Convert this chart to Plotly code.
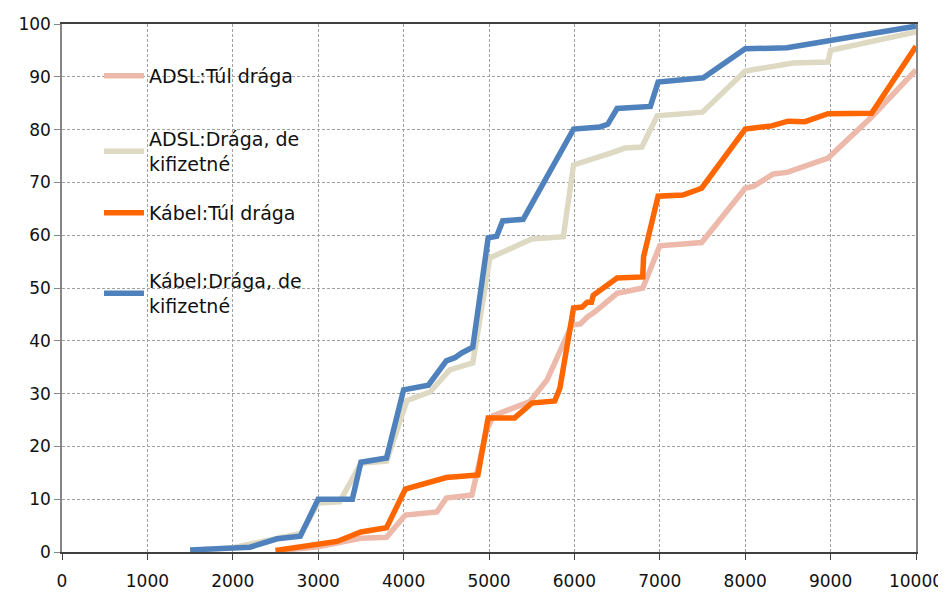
import plotly.graph_objects as go

adsl_tul_x = [2500, 3000, 3300, 3500, 3800, 4020, 4390, 4500, 4800, 4970, 5050, 5480, 5680, 5970, 6070, 6150, 6240, 6500, 6800, 7000, 7490, 8000, 8100, 8330, 8490, 8970, 9480, 10000]
adsl_tul_y = [0.2, 1.0, 2.0, 2.6, 2.8, 7.0, 7.6, 10.2, 10.8, 23.0, 25.8, 28.5, 32.6, 43.0, 43.2, 44.5, 45.5, 49.0, 50.0, 58.0, 58.6, 68.9, 69.3, 71.6, 71.9, 74.6, 82.4, 91.3]

adsl_draga_x = [1500, 2000, 2200, 2500, 2800, 3000, 3250, 3500, 3800, 4040, 4310, 4540, 4810, 5010, 5210, 5500, 5870, 5990, 6450, 6590, 6790, 6970, 7500, 8000, 8560, 8970, 9000, 10000]
adsl_draga_y = [0.3, 0.8, 1.5, 2.6, 3.5, 9.3, 9.5, 16.8, 17.2, 28.7, 30.3, 34.5, 35.8, 55.7, 57.2, 59.3, 59.7, 73.3, 75.7, 76.5, 76.7, 82.6, 83.3, 91.1, 92.6, 92.8, 95.0, 98.5]

kabel_tul_x = [2500, 3000, 3220, 3500, 3800, 4020, 4500, 4870, 4990, 5300, 5500, 5770, 5830, 5990, 6090, 6150, 6200, 6220, 6500, 6800, 6810, 6980, 7270, 7490, 8000, 8310, 8500, 8700, 8970, 9480, 10000]
kabel_tul_y = [0.3, 1.5, 2.0, 3.8, 4.6, 11.9, 14.1, 14.6, 25.4, 25.4, 28.2, 28.6, 31.0, 46.2, 46.4, 47.3, 47.3, 48.6, 51.9, 52.1, 55.9, 67.4, 67.6, 68.9, 80.1, 80.7, 81.6, 81.5, 83.0, 83.1, 95.8]

kabel_draga_x = [1500, 2000, 2200, 2520, 2790, 3000, 3400, 3500, 3800, 4000, 4290, 4500, 4600, 4680, 4810, 4990, 5090, 5160, 5400, 5990, 6300, 6390, 6500, 6890, 6980, 7510, 8000, 8490, 9000, 10000]
kabel_draga_y = [0.4, 0.8, 0.9, 2.5, 3.0, 10.0, 10.0, 17.0, 17.8, 30.7, 31.6, 36.2, 36.8, 37.7, 38.8, 59.5, 59.8, 62.7, 63.0, 80.1, 80.5, 81.0, 84.0, 84.4, 89.0, 89.8, 95.3, 95.5, 96.8, 99.6]

series = [
    ("ADSL:Túl drága", adsl_tul_x, adsl_tul_y, "#ECB9AA"),
    ("ADSL:Drága, de<br>kifizetné", adsl_draga_x, adsl_draga_y, "#DDD9C3"),
    ("Kábel:Túl drága", kabel_tul_x, kabel_tul_y, "#FF6600"),
    ("Kábel:Drága, de<br>kifizetné", kabel_draga_x, kabel_draga_y, "#4F81BD"),
]
legend_ids = ["legend", "legend2", "legend3", "legend4"]
legend_y = [0.9375, 0.8182, 0.6780, 0.5492]

FONT = "DejaVu Sans, Liberation Sans, Arial, sans-serif"

fig = go.Figure()
for (name, xs, ys, col), lid in zip(series, legend_ids):
    fig.add_trace(go.Scatter(x=xs, y=ys, mode="lines", name=name,
                             legend=lid,
                             line=dict(color=col, width=5.5)))

legend_common = dict(x=0.0433, xanchor="left", yanchor="top",
                     bgcolor="rgba(0,0,0,0)", font=dict(family=FONT, size=19, color="#111"),
                     itemwidth=40)
layout_legends = {}
for lid, ly in zip(legend_ids, legend_y):
    layout_legends[lid] = dict(legend_common, y=ly)

fig.update_layout(
    width=946, height=594,
    margin=dict(l=54, r=38, t=16, b=50),
    paper_bgcolor="white", plot_bgcolor="white",
    font=dict(family=FONT, size=17, color="#111"),
    showlegend=True,
    shapes=[dict(type="rect", xref="paper", yref="paper",
                 x0=0.0386, x1=0.2927, y0=0.4394, y1=0.9697,
                 fillcolor="white", line=dict(width=0), layer="between")],
    **layout_legends,
)
fig.update_xaxes(range=[0, 10000], dtick=1000, tick0=0, tickformat="d",
                 showgrid=True, gridcolor="#A0A0A0", griddash="3px,2px", gridwidth=1,
                 showline=True, linecolor="#404040", linewidth=1.5, mirror=True,
                 ticks="outside", ticklen=6, tickcolor="#404040",
                 ticklabelstandoff=7, zeroline=False, automargin=False)
fig.update_yaxes(range=[0, 100], dtick=10, tick0=0,
                 showgrid=True, gridcolor="#A0A0A0", griddash="3px,2px", gridwidth=1,
                 showline=True, linecolor="#868686", linewidth=1.5, mirror=True,
                 ticks="outside", ticklen=6, tickcolor="#868686",
                 zeroline=False, automargin=False)

fig.write_html("out.html")
